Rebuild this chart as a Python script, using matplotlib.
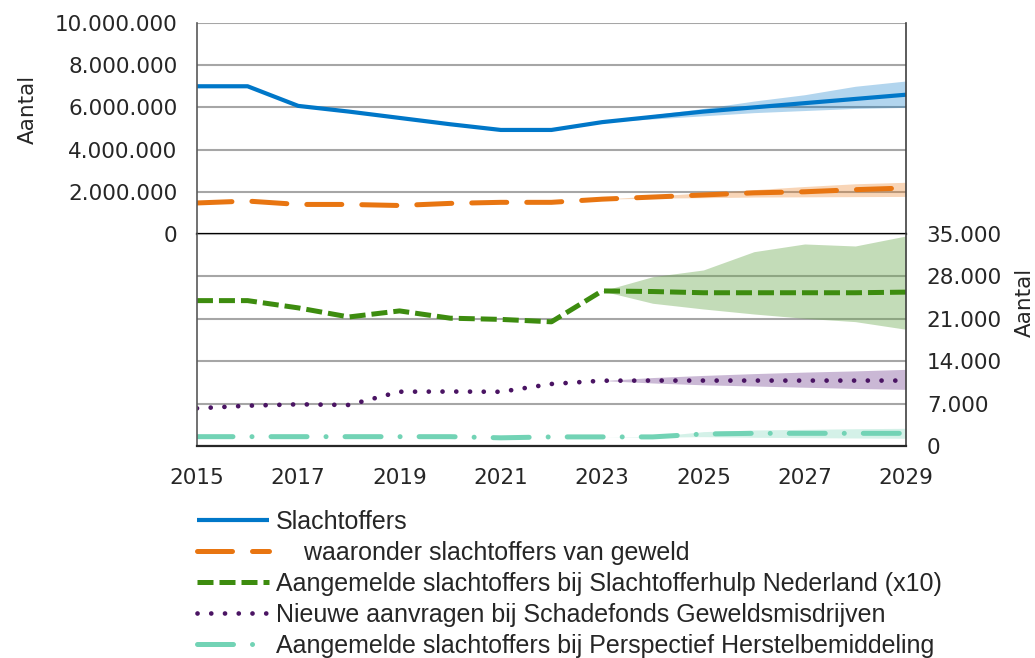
import matplotlib
matplotlib.use('Agg')
import matplotlib.pyplot as plt
from matplotlib.ticker import FuncFormatter, MultipleLocator
import numpy as np

jaren = list(range(2015, 2030))
prognose_jaren = list(range(2023, 2030))

# bovenste paneel (miljoenen)
slachtoffers = [7000000, 7000000, 6070000, 5800000, 5500000, 5200000, 4930000, 4930000,
                5300000, 5550000, 5800000, 6000000, 6200000, 6400000, 6600000]
slachtoffers_hoog = [5300000, 5650000, 5950000, 6300000, 6600000, 7000000, 7250000]
slachtoffers_laag = [5300000, 5450000, 5600000, 5750000, 5850000, 5950000, 6000000]

geweld = [1470000, 1560000, 1400000, 1400000, 1350000, 1450000, 1500000, 1500000,
          1650000, 1750000, 1850000, 1950000, 2000000, 2100000, 2180000]
geweld_hoog = [1650000, 1800000, 1950000, 2100000, 2250000, 2380000, 2450000]
geweld_laag = [1650000, 1700000, 1720000, 1750000, 1760000, 1770000, 1780000]

# onderste paneel (duizenden)
shn = [24000, 24000, 22800, 21300, 22300, 21100, 20900, 20500,
       25600, 25500, 25300, 25300, 25300, 25300, 25400]
shn_hoog = [25600, 27950, 29060, 32080, 33350, 33020, 34670]
shn_laag = [25600, 23560, 22620, 21790, 21080, 20530, 19270]

schadefonds = [6220, 6650, 6880, 6770, 8960, 8990, 8950, 10240,
               10780, 10800, 10800, 10800, 10800, 10800, 10800]
schadefonds_hoog = [10800, 11300, 11650, 11950, 12200, 12400, 12650]
schadefonds_laag = [10800, 10400, 10100, 9900, 9700, 9500, 9350]

perspectief = [1540, 1540, 1540, 1540, 1540, 1540, 1350, 1500,
               1500, 1500, 1980, 2090, 2090, 2090, 2090]
perspectief_hoog = [1500, 1550, 2370, 2640, 2750, 2850, 2920]
perspectief_laag = [1500, 1450, 1540, 1430, 1380, 1320, 1270]

labels = ['Slachtoffers',
          '    waaronder slachtoffers van geweld',
          'Aangemelde slachtoffers bij Slachtofferhulp Nederland (x10)',
          'Nieuwe aanvragen bij Schadefonds Geweldsmisdrijven',
          'Aangemelde slachtoffers bij Perspectief Herstelbemiddeling']

blauw = '#0077c8'
oranje = '#e87511'
groen = '#3d8c0f'
paars = '#4a1463'
turkoois = '#72d3b5'
tekst = '#262626'

def punt_format(v, pos):
    return '{:,.0f}'.format(v).replace(',', '.')

fig = plt.figure(figsize=(10.35, 6.58), dpi=100)
ax1 = fig.add_axes([0.1903, 0.6444, 0.6850, 0.3207])
ax2 = fig.add_axes([0.1903, 0.3222, 0.6850, 0.3222])

# bovenste paneel
ax1.fill_between(prognose_jaren, slachtoffers_laag, slachtoffers_hoog, color=blauw, alpha=0.3, lw=0)
ax1.fill_between(prognose_jaren, geweld_laag, geweld_hoog, color=oranje, alpha=0.3, lw=0)
l1, = ax1.plot(jaren, slachtoffers, color=blauw, lw=3.0, solid_capstyle='butt')
l2, = ax1.plot(jaren, geweld, color=oranje, lw=3.6, dashes=(7, 4), dash_capstyle='round')

ax1.set_xlim(2015, 2029)
ax1.set_ylim(0, 10000000)
ax1.yaxis.set_major_locator(MultipleLocator(2000000))
ax1.yaxis.set_major_formatter(FuncFormatter(punt_format))
ax1.set_xticks([])
ax1.grid(axis='y', color='#a6a6a6', lw=1.5)
ax1.set_axisbelow(True)
ax1.spines['top'].set_visible(False)
ax1.spines['left'].set_color('#595959')
ax1.spines['right'].set_color('#404040')
ax1.spines['left'].set_linewidth(1.2)
ax1.spines['right'].set_linewidth(1.2)
ax1.spines['bottom'].set_color('black')
ax1.spines['bottom'].set_linewidth(1.6)
ax1.spines['bottom'].set_zorder(5)
ax1.tick_params(axis='y', length=0, pad=14, labelsize=15.5, labelcolor=tekst)

# onderste paneel
ax2.fill_between(prognose_jaren, shn_laag, shn_hoog, color='#6aa84f', alpha=0.4, lw=0)
ax2.fill_between(prognose_jaren, schadefonds_laag, schadefonds_hoog, color='#7b4f96', alpha=0.4, lw=0)
ax2.fill_between(prognose_jaren, perspectief_laag, perspectief_hoog, color=turkoois, alpha=0.3, lw=0)
l3, = ax2.plot(jaren, shn, color=groen, lw=3.6, dashes=(3.2, 1.2))
l4, = ax2.plot(jaren, schadefonds, color=paars, lw=3.4, dashes=(0.01, 2.9), dash_capstyle='round')
l5, = ax2.plot(jaren, perspectief, color=turkoois, lw=3.6,
               dashes=(7.2, 3.8, 0.01, 3.8), dash_capstyle='round')

ax2.set_xlim(2015, 2029)
ax2.set_ylim(0, 35000)
ax2.set_xticks(range(2015, 2030, 2))
ax2.yaxis.set_major_locator(MultipleLocator(7000))
ax2.yaxis.set_major_formatter(FuncFormatter(punt_format))
ax2.yaxis.tick_right()
ax2.grid(axis='y', color='#a6a6a6', lw=1.5)
ax2.set_axisbelow(True)
ax2.spines['top'].set_visible(False)
ax2.spines['left'].set_color('#595959')
ax2.spines['right'].set_color('#404040')
ax2.spines['left'].set_linewidth(1.2)
ax2.spines['right'].set_linewidth(1.2)
ax2.spines['bottom'].set_color('#262626')
ax2.spines['bottom'].set_linewidth(1.6)
ax2.tick_params(axis='y', length=0, pad=15, labelsize=15.5, labelcolor=tekst)
ax2.tick_params(axis='x', length=0, pad=16, labelsize=15.5, labelcolor=tekst)

fig.text(0.027, 0.833, 'Aantal', rotation=90, ha='center', va='center', fontsize=15.5, color=tekst)
fig.text(0.990, 0.540, 'Aantal', rotation=90, ha='center', va='center', fontsize=15.5, color=tekst)

leg = fig.legend([l1, l2, l3, l4, l5], labels, loc='upper left',
                 bbox_to_anchor=(0.1903, 0.225), frameon=False,
                 prop={'family': 'Liberation Sans', 'size': 18},
                 handlelength=2.9, handletextpad=0.25, labelspacing=0.28,
                 borderpad=0, borderaxespad=0)
for t in leg.get_texts():
    t.set_color(tekst)

fig.savefig('out.png', dpi=100)
